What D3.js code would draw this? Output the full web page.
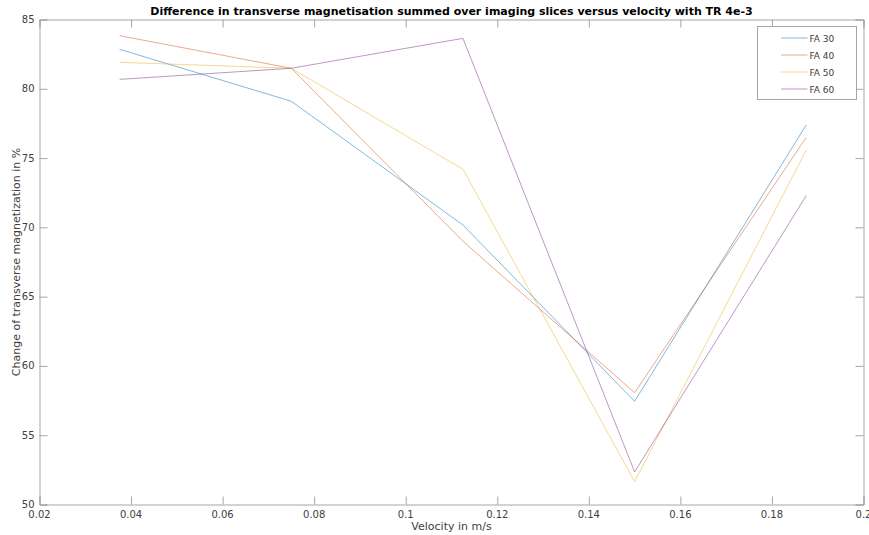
<!DOCTYPE html>
<html>
<head>
<meta charset="utf-8">
<script src="https://cdn.jsdelivr.net/npm/d3@7"></script>
<style>
  body { margin: 0; background: #fff; }
  text { font-family: "DejaVu Sans", sans-serif; }
</style>
</head>
<body>
<svg></svg>
<script>
const wSvg = 869, hSvg = 535;

const velocities = [0.0375, 0.075, 0.1125, 0.15, 0.1875];
const fa30 = [82.85, 79.1, 70.17, 57.45, 77.39];
const fa40 = [83.83, 81.48, 69.0, 58.07, 76.5];
const fa50 = [81.91, 81.48, 74.19, 51.65, 75.58];
const fa60 = [80.68, 81.48, 83.64, 52.35, 72.29];
const seriesNames = ["FA 30", "FA 40", "FA 50", "FA 60"];
const seriesColors = ["#0072BD", "#D95319", "#EDB120", "#7E2F8E"];
const xTicks = [0.02, 0.04, 0.06, 0.08, 0.1, 0.12, 0.14, 0.16, 0.18, 0.2];
const yTicks = [50, 55, 60, 65, 70, 75, 80, 85];

const series = [fa30, fa40, fa50, fa60].map((vals, i) => ({
    name: seriesNames[i],
    color: seriesColors[i],
    points: vals.map((v, j) => ({ x: velocities[j], y: v }))
}));

const plotL = 39.5, plotR = 863.5, plotT = 19.5, plotB = 504.5;
const axisColor = "#a6a6a6", textColor = "#404040";

const svg = d3.select("svg")
    .attr("width", wSvg)
    .attr("height", hSvg)
    .style("display", "block");

const x = d3.scaleLinear().domain([0.02, 0.2]).range([plotL, plotR]);
const y = d3.scaleLinear().domain([50, 85]).range([plotB, plotT]);

// lines
const line = d3.line().x(d => x(d.x)).y(d => y(d.y));
svg.append("g")
    .selectAll("path")
    .data(series)
    .enter()
    .append("path")
    .attr("d", d => line(d.points))
    .attr("fill", "none")
    .attr("stroke", d => d.color)
    .attr("stroke-width", 1)
    .attr("stroke-opacity", 0.5);

// axes, ticks pointing inward like MATLAB
const tickLen = 8;
const fmt = d => String(d);

const xBottom = svg.append("g")
    .attr("transform", `translate(0,${plotB})`)
    .call(d3.axisTop(x).tickValues(xTicks).tickSize(tickLen).tickFormat(""));
const xTop = svg.append("g")
    .attr("transform", `translate(0,${plotT})`)
    .call(d3.axisBottom(x).tickValues(xTicks).tickSize(tickLen).tickFormat(""));
const yLeft = svg.append("g")
    .attr("transform", `translate(${plotL},0)`)
    .call(d3.axisRight(y).tickValues(yTicks).tickSize(tickLen).tickFormat(""));
const yRight = svg.append("g")
    .attr("transform", `translate(${plotR},0)`)
    .call(d3.axisLeft(y).tickValues(yTicks).tickSize(tickLen).tickFormat(""));

[xBottom, xTop, yLeft, yRight].forEach(g => {
    g.selectAll("path").attr("stroke", axisColor).attr("stroke-width", 1);
    g.selectAll("line").attr("stroke", axisColor).attr("stroke-width", 1);
});

// tick labels
svg.append("g")
    .selectAll("text")
    .data(xTicks)
    .enter()
    .append("text")
    .attr("x", d => x(d))
    .attr("y", plotB + 13)
    .attr("text-anchor", "middle")
    .attr("font-size", 10)
    .attr("fill", textColor)
    .text(fmt);

svg.append("g")
    .selectAll("text")
    .data(yTicks)
    .enter()
    .append("text")
    .attr("x", plotL - 5)
    .attr("y", d => y(d) + 3.5)
    .attr("text-anchor", "end")
    .attr("font-size", 10)
    .attr("fill", textColor)
    .text(fmt);

// axis labels + title
svg.append("text")
    .attr("x", (plotL + plotR) / 2)
    .attr("y", 530)
    .attr("text-anchor", "middle")
    .attr("font-size", 11)
    .attr("fill", textColor)
    .text("Velocity in m/s");

svg.append("text")
    .attr("transform", `translate(20,${(plotT + plotB) / 2}) rotate(-90)`)
    .attr("text-anchor", "middle")
    .attr("font-size", 11)
    .attr("fill", textColor)
    .text("Change of transverse magnetization in %");

svg.append("text")
    .attr("x", (plotL + plotR) / 2)
    .attr("y", 15)
    .attr("text-anchor", "middle")
    .attr("font-size", 11)
    .attr("font-weight", "bold")
    .attr("fill", "#000")
    .text("Difference in transverse magnetisation summed over imaging slices versus velocity with TR 4e-3");

// legend
const legend = svg.append("g").attr("transform", "translate(757.5,26.5)");
legend.append("rect")
    .attr("width", 99)
    .attr("height", 73)
    .attr("fill", "#fff")
    .attr("stroke", axisColor)
    .attr("stroke-width", 1);

const items = legend.selectAll("g.item")
    .data(series)
    .enter()
    .append("g")
    .classed("item", true)
    .attr("transform", (d, i) => `translate(0,${11.5 + i * 17})`);

items.append("line")
    .attr("x1", 23.5)
    .attr("x2", 50)
    .attr("stroke", d => d.color)
    .attr("stroke-width", 1)
    .attr("stroke-opacity", 0.5);

items.append("text")
    .attr("x", 52)
    .attr("y", 3.5)
    .attr("font-size", 9)
    .attr("fill", textColor)
    .text(d => d.name);
</script>
</body>
</html>
